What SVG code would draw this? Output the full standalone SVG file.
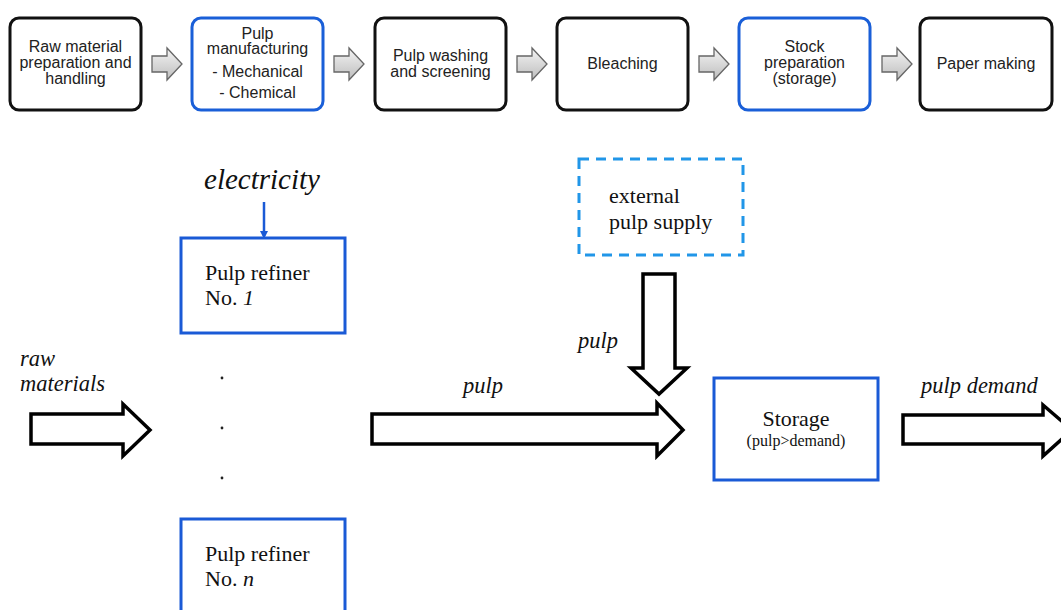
<svg xmlns="http://www.w3.org/2000/svg" width="1061" height="610" viewBox="0 0 1061 610">
<defs>
<linearGradient id="g" x1="0" y1="0" x2="0" y2="1"><stop offset="0" stop-color="#f4f4f4"/><stop offset="1" stop-color="#bdbdbd"/></linearGradient>
<marker id="ah" markerWidth="8" markerHeight="8" refX="5" refY="4" orient="auto" markerUnits="userSpaceOnUse"><path d="M0,0 L8,4 L0,8 Z" fill="#1a5ad6"/></marker>
<style>
.pb{fill:#fff;stroke:#111;stroke-width:3}
.pbb{fill:#fff;stroke:#1a5fd8;stroke-width:3}
.ts{font-family:"Liberation Sans",Arial,sans-serif;font-size:16px;fill:#222;text-anchor:middle}
.bx{fill:#fff;stroke:#1a5ad6;stroke-width:3}
.tr{font-family:"Liberation Serif","Times New Roman",serif;font-size:22px;fill:#111}
.ti{font-family:"Liberation Serif","Times New Roman",serif;font-size:22.5px;font-style:italic;fill:#111}
.ga{fill:url(#g);stroke:#666;stroke-width:1.3}
.ba{fill:#fff;stroke:#000;stroke-width:3.5;stroke-linejoin:miter}
</style>
</defs>
<g id="proc-raw"><rect class="pb" x="10" y="18" width="131" height="92" rx="9"/><text class="ts" x="75.5" y="52">Raw material</text><text class="ts" x="75.5" y="68">preparation and</text><text class="ts" x="75.5" y="84">handling</text></g>
<g id="proc-pulp"><rect class="pbb" x="192" y="18" width="131" height="92" rx="9"/><text class="ts" x="257.5" y="39">Pulp</text><text class="ts" x="257.5" y="54">manufacturing</text><text class="ts" x="257.5" y="77">- Mechanical</text><text class="ts" x="257.5" y="98">- Chemical</text></g>
<g id="proc-wash"><rect class="pb" x="375" y="18" width="131" height="92" rx="9"/><text class="ts" x="440.5" y="61">Pulp washing</text><text class="ts" x="440.5" y="77">and screening</text></g>
<g id="proc-bleach"><rect class="pb" x="557" y="18" width="131" height="92" rx="9"/><text class="ts" x="622.5" y="69">Bleaching</text></g>
<g id="proc-stock"><rect class="pbb" x="739" y="18" width="131" height="92" rx="9"/><text class="ts" x="804.5" y="52">Stock</text><text class="ts" x="804.5" y="68">preparation</text><text class="ts" x="804.5" y="84">(storage)</text></g>
<g id="proc-paper"><rect class="pb" x="920" y="18" width="132" height="92" rx="9"/><text class="ts" x="986" y="69">Paper making</text></g>
<g id="connectors">
<path class="ga" d="M152,56 H167 V48 L182,64 L167,80 V72 H152 Z"/>
<path class="ga" d="M334,56 H349 V48 L364,64 L349,80 V72 H334 Z"/>
<path class="ga" d="M517,56 H532 V48 L547,64 L532,80 V72 H517 Z"/>
<path class="ga" d="M699,56 H714 V48 L729,64 L714,80 V72 H699 Z"/>
<path class="ga" d="M882,56 H897 V48 L912,64 L897,80 V72 H882 Z"/>
<line x1="264" y1="202" x2="264" y2="236" stroke="#1a5ad6" stroke-width="2.5" marker-end="url(#ah)"/>
<path class="ba" d="M31,414 H123 V404 L150,430 L123,456 V444 H31 Z"/>
<path class="ba" d="M372,414 H657 V403 L683,430 L657,456 V444 H372 Z"/>
<path class="ba" d="M643,274 H675 V368 H687 L659,394 L631,368 H643 Z"/>
<path class="ba" d="M903,415 H1043 V405 L1072,430 L1043,456 V444 H903 Z"/>
</g>
<text class="ti" x="262" y="189" text-anchor="middle" style="font-size:29px">electricity</text>
<text class="ti" x="20" y="366">raw</text>
<text class="ti" x="20" y="391">materials</text>
<text class="ti" x="578" y="348">pulp</text>
<text class="ti" x="463" y="393">pulp</text>
<text class="ti" x="921" y="393">pulp demand</text>
<g id="refiner-1"><rect class="bx" x="181" y="238" width="164" height="95"/><text class="tr" x="205" y="280">Pulp refiner</text><text class="tr" x="205" y="305">No. <tspan font-style="italic">1</tspan></text></g>
<g id="dots"><circle cx="222" cy="378" r="1.4" fill="#222"/><circle cx="222" cy="428" r="1.4" fill="#222"/><circle cx="222" cy="478" r="1.4" fill="#222"/></g>
<g id="refiner-n"><rect class="bx" x="181" y="519" width="164" height="100"/><text class="tr" x="205" y="561">Pulp refiner</text><text class="tr" x="205" y="586">No. <tspan font-style="italic">n</tspan></text></g>
<g id="external"><rect x="579" y="159" width="164" height="96" fill="#fff" stroke="#2196e8" stroke-width="3" stroke-dasharray="10,7"/><text class="tr" x="609" y="203">external</text><text class="tr" x="609" y="229">pulp supply</text></g>
<g id="storage"><rect class="bx" x="714" y="378" width="164" height="102"/><text class="tr" x="796" y="426" text-anchor="middle">Storage</text><text class="tr" x="796" y="446" text-anchor="middle" style="font-size:16px">(pulp&gt;demand)</text></g>
</svg>
